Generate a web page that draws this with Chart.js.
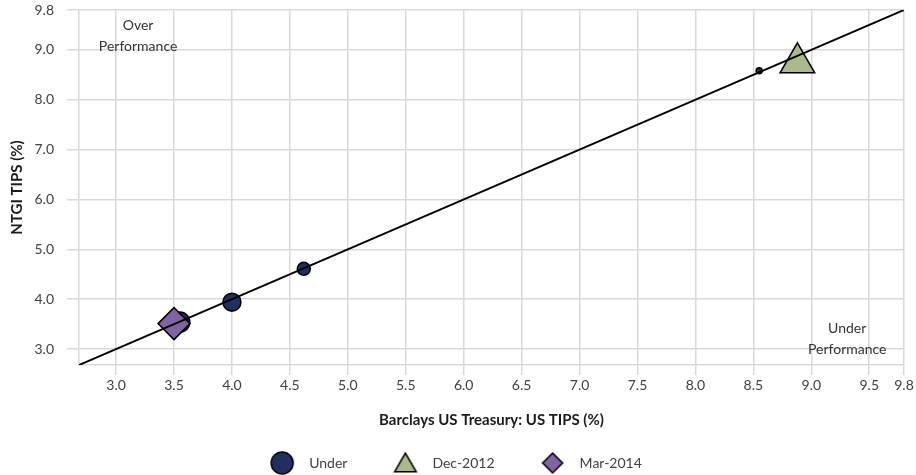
<!DOCTYPE html>
<html>
<head>
<meta charset="utf-8">
<script src="https://cdn.jsdelivr.net/npm/chart.js@4.4.1/dist/chart.umd.min.js"></script>
<style>
  html, body { margin: 0; padding: 0; background: #ffffff; }
  #wrap { width: 916px; height: 475px; position: relative; }
</style>
</head>
<body>
<div id="wrap"><canvas id="chart" width="916" height="475"></canvas></div>
<script>
// ---- data ----
const seriesNames = ['Under', 'Dec-2012', 'Mar-2014'];
const underX = [3.55, 4.00, 4.62, 8.55];
const underY = [3.54, 3.94, 4.61, 8.58];
const underRadius = [10, 9, 6.5, 3];
const dec2012X = [8.88];
const dec2012Y = [8.74];
const mar2014X = [3.50];
const mar2014Y = [3.51];
const axisMin = 2.68;
const axisMax = 9.8;
const parityLine = [axisMin, axisMax];
const xTickValues = [3.0, 3.5, 4.0, 4.5, 5.0, 5.5, 6.0, 6.5, 7.0, 7.5, 8.0, 8.5, 9.0, 9.5, 9.8];
const yTickValues = [3.0, 4.0, 5.0, 6.0, 7.0, 8.0, 9.0, 9.8];
const xTitle = 'Barclays US Treasury: US TIPS (%)';
const yTitle = 'NTGI TIPS (%)';
const noteTexts = [['Over', 'Performance'], ['Under', 'Performance']];
const noteX = [3.19, 9.31];
const noteY = [9.48, 3.42];

// ---- styles ----
const NAVY = '#1f2f60';
const GREEN = '#a9bb8c';
const PURPLE = '#8064a2';
const GRID = '#d9d9d9';
const FONT = 'Lato, "Open Sans", sans-serif';

Chart.defaults.font.family = FONT;

const toPts = (xs, ys) => xs.map((x, i) => ({ x: x, y: ys[i] }));

// legend marker images (drawn with Chart.js helper)
function legendMarker(style, radius, fill, boxW, offsetX, dy) {
  const c = document.createElement('canvas');
  c.width = boxW; c.height = 32;
  const ctx = c.getContext('2d');
  ctx.fillStyle = fill;
  ctx.strokeStyle = '#000000';
  ctx.lineWidth = 1.5;
  Chart.helpers.drawPoint(ctx, { pointStyle: style, radius: radius, rotation: 0, borderWidth: 1.5 }, offsetX, 16 + dy);
  return c;
}
const LEG_BOX = 40;
const legendImages = [
  legendMarker('circle', 11, NAVY, LEG_BOX, 20, 0),
  legendMarker('triangle', 12.5, GREEN, LEG_BOX, 20, 2.5),
  legendMarker('rectRot', 10, PURPLE, LEG_BOX, 20, 0)
];

const notesPlugin = {
  id: 'notes',
  afterDatasetsDraw(chart) {
    const { ctx, scales: { x, y } } = chart;
    ctx.save();
    ctx.font = '14px ' + FONT;
    ctx.fillStyle = '#333333';
    ctx.textAlign = 'center';
    ctx.textBaseline = 'middle';
    noteTexts.forEach((lines, i) => {
      const px = x.getPixelForValue(noteX[i]);
      const py = y.getPixelForValue(noteY[i]);
      lines.forEach((t, j) => ctx.fillText(t, px, py + j * 21));
    });
    ctx.restore();
  }
};

new Chart(document.getElementById('chart'), {
  type: 'scatter',
  data: {
    datasets: [
      {
        label: seriesNames[0],
        data: toPts(underX, underY),
        backgroundColor: NAVY,
        borderColor: '#000000',
        borderWidth: 1.5,
        pointRadius: underRadius,
        pointHoverRadius: underRadius,
        pointStyle: 'circle',
        order: 3
      },
      {
        label: seriesNames[1],
        data: toPts(dec2012X, dec2012Y),
        backgroundColor: GREEN,
        borderColor: '#000000',
        borderWidth: 1.5,
        pointRadius: 20,
        pointHoverRadius: 20,
        pointStyle: 'triangle',
        order: 2
      },
      {
        label: seriesNames[2],
        data: toPts(mar2014X, mar2014Y),
        backgroundColor: PURPLE,
        borderColor: '#000000',
        borderWidth: 1.5,
        pointRadius: 16,
        pointHoverRadius: 16,
        pointStyle: 'rectRot',
        order: 1
      },
      {
        label: 'parity',
        data: toPts(parityLine, parityLine),
        showLine: true,
        borderColor: '#000000',
        borderWidth: 2,
        pointRadius: 0,
        pointHoverRadius: 0,
        fill: false,
        order: 0
      }
    ]
  },
  options: {
    responsive: false,
    animation: false,
    layout: { autoPadding: false, padding: { top: 10, right: 12, left: 0, bottom: -5 } },
    plugins: {
      tooltip: { enabled: false },
      legend: {
        position: 'bottom',
        labels: {
          usePointStyle: true,
          pointStyleWidth: LEG_BOX,
          padding: 38,
          color: '#404040',
          font: { size: 14, family: FONT },
          filter: (item) => item.datasetIndex < 3,
          sort: (a, b) => a.datasetIndex - b.datasetIndex,
          generateLabels: (chart) => {
            const items = Chart.defaults.plugins.legend.labels.generateLabels(chart);
            items.forEach((it) => {
              if (it.datasetIndex < 3) {
                it.pointStyle = legendImages[it.datasetIndex];
                it.rotation = 0;
              }
            });
            return items;
          }
        }
      }
    },
    scales: {
      x: {
        type: 'linear',
        min: axisMin,
        max: axisMax,
        afterBuildTicks: (s) => { s.ticks = xTickValues.map(v => ({ value: v })); },
        afterFit: (s) => { s.height = 53; s.paddingLeft = 0; s.paddingRight = 0; },
        grid: { color: GRID, lineWidth: 1.5, tickLength: 10, drawTicks: true },
        border: { color: GRID, width: 1.5 },
        ticks: {
          padding: 2,
          color: '#404040',
          font: { size: 14 },
          maxRotation: 0,
          autoSkip: false,
          callback: (v) => Number(v).toFixed(1)
        },
        title: {
          display: true,
          text: xTitle,
          color: '#1a1a1a',
          font: { size: 15, weight: 'bold' },
          padding: { top: 0, bottom: -11 }
        }
      },
      y: {
        type: 'linear',
        min: axisMin,
        max: axisMax,
        afterBuildTicks: (s) => { s.ticks = yTickValues.map(v => ({ value: v })); },
        afterFit: (s) => { s.width = 79; s.paddingTop = 0; s.paddingBottom = 0; },
        grid: { color: GRID, lineWidth: 1.5, tickLength: 12, drawTicks: true },
        border: { color: GRID, width: 1.5 },
        ticks: {
          padding: 13,
          color: '#404040',
          font: { size: 14 },
          autoSkip: false,
          callback: (v) => Number(v).toFixed(1)
        },
        title: {
          display: true,
          text: yTitle,
          color: '#1a1a1a',
          font: { size: 15, weight: 'bold' },
          padding: { top: 8, bottom: 4 }
        }
      }
    }
  },
  plugins: [notesPlugin]
});
</script>
</body>
</html>
